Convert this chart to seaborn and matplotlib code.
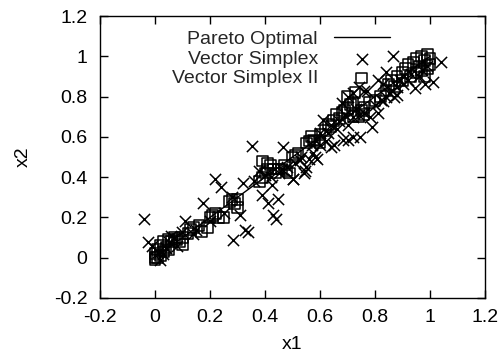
import matplotlib
matplotlib.use("Agg")
import matplotlib.pyplot as plt
import seaborn as sns
import pandas as pd

# ---- data ----
pareto_x = [0.0, 1.0]
pareto_y = [0.0, 1.0]

vs_x = [-0.04, -0.025, -0.01, 0.01, 0.02, 0.03, 0.05, 0.07, 0.11, 0.10, 0.175, 0.14, 0.20,
        0.22, 0.24, 0.25, 0.28, 0.32, 0.284, 0.31, 0.327, 0.34, 0.39, 0.41, 0.447, 0.43, 0.44,
        0.50, 0.425, 0.353, 0.465, 0.38, 0.40, 0.42, 0.45, 0.48, 0.51, 0.545, 0.58, 0.56, 0.527,
        0.55, 0.59, 0.575, 0.60, 0.62, 0.65, 0.685, 0.72, 0.745, 0.61, 0.68, 0.64, 0.66, 0.70,
        0.72, 0.74, 0.73, 0.76, 0.78, 0.79, 0.80, 0.81, 0.82, 0.72, 0.74, 0.70, 0.83, 0.84, 0.86,
        0.88, 0.87, 0.865, 0.90, 0.92, 0.945, 1.01, 1.04, 0.97, 0.99, 0.93, 0.96, 0.98, 0.76,
        0.81, 0.84, 0.77, 0.69, 0.67, 0.63, 0.60, 0.57, 0.53, 0.46, 0.36, 0.15, 0.08, 0.04, 0.06,
        0.83, 0.85, 0.89, 0.54, 0.50, 0.64, 0.70, 0.88]
vs_y = [0.19, 0.08, 0.06, 0.03, -0.01, 0.02, 0.08, 0.10, 0.18, 0.13, 0.27, 0.12, 0.18,
        0.39, 0.35, 0.22, 0.30, 0.37, 0.09, 0.21, 0.14, 0.13, 0.31, 0.27, 0.29, 0.21, 0.19,
        0.39, 0.36, 0.556, 0.55, 0.43, 0.41, 0.40, 0.42, 0.45, 0.47, 0.43, 0.50, 0.49, 0.487,
        0.45, 0.49, 0.52, 0.56, 0.58, 0.56, 0.585, 0.60, 0.60, 0.685, 0.77, 0.66, 0.64, 0.66,
        0.70, 0.71, 0.74, 0.72, 0.70, 0.65, 0.76, 0.72, 0.785, 0.82, 0.85, 0.80, 0.78, 0.80, 0.83,
        0.85, 0.80, 1.00, 0.86, 0.88, 0.845, 0.87, 0.97, 0.93, 0.95, 0.91, 0.90, 0.86, 0.83,
        0.88, 0.92, 0.83, 0.71, 0.68, 0.62, 0.62, 0.56, 0.50, 0.44, 0.38, 0.14, 0.06, 0.05, 0.11,
        0.86, 0.82, 0.88, 0.42, 0.39, 0.55, 0.585, 0.81]

vs2_x = [0.00, 0.00, 0.01, 0.00, 0.02, 0.01, 0.03, 0.02, 0.04, 0.05, 0.03, 0.05, 0.06, 0.07,
         0.08, 0.09, 0.10, 0.10, 0.12, 0.13, 0.14, 0.16, 0.17, 0.19, 0.20, 0.21, 0.22, 0.23,
         0.25, 0.27, 0.28, 0.29, 0.30, 0.30, 0.38, 0.39, 0.40, 0.41, 0.39, 0.41, 0.42, 0.43,
         0.44, 0.45, 0.46, 0.48, 0.49, 0.47, 0.50, 0.51, 0.52, 0.55, 0.56, 0.57, 0.575, 0.58,
         0.60, 0.60, 0.62, 0.64, 0.63, 0.65, 0.67, 0.66, 0.68, 0.69, 0.70, 0.71, 0.72, 0.727,
         0.70, 0.72, 0.74, 0.76, 0.75, 0.76, 0.78, 0.80, 0.82, 0.84, 0.85, 0.86, 0.87, 0.88,
         0.90, 0.90, 0.91, 0.92, 0.93, 0.94, 0.95, 0.96, 0.97, 0.98, 0.99, 1.00, 1.00, 0.97,
         0.95, 0.99, 0.98]
vs2_y = [0.00, -0.01, 0.00, 0.02, 0.01, 0.04, 0.03, 0.06, 0.05, 0.04, 0.08, 0.09, 0.08, 0.10,
         0.09, 0.08, 0.065, 0.10, 0.12, 0.14, 0.15, 0.16, 0.13, 0.15, 0.20, 0.21, 0.22, 0.20,
         0.20, 0.28, 0.29, 0.27, 0.29, 0.25, 0.38, 0.40, 0.42, 0.44, 0.48, 0.47, 0.46, 0.44,
         0.42, 0.44, 0.44, 0.43, 0.42, 0.46, 0.50, 0.51, 0.52, 0.57, 0.58, 0.60, 0.585, 0.58,
         0.61, 0.57, 0.63, 0.65, 0.66, 0.68, 0.69, 0.71, 0.72, 0.73, 0.74, 0.76, 0.77, 0.82,
         0.80, 0.70, 0.70, 0.71, 0.73, 0.745, 0.77, 0.78, 0.80, 0.83, 0.86, 0.88, 0.85, 0.90,
         0.92, 0.88, 0.94, 0.96, 0.90, 0.97, 0.99, 0.95, 1.00, 0.98, 1.01, 0.99, 0.96, 0.93,
         0.92, 0.94, 0.90]

ticks = [-0.2, 0, 0.2, 0.4, 0.6, 0.8, 1, 1.2]
tick_labels = ["-0.2", "0", "0.2", "0.4", "0.6", "0.8", "1", "1.2"]

sns.set_theme(style="ticks")
plt.rcParams["font.family"] = ["Liberation Sans", "DejaVu Sans"]
plt.rcParams["xtick.direction"] = "in"
plt.rcParams["ytick.direction"] = "in"

fig = plt.figure(figsize=(4.98, 3.58), dpi=100)
ax = fig.add_axes([0.2008, 0.1676, 0.7731, 0.7877])

pareto_df = pd.DataFrame({"x1": pareto_x, "x2": pareto_y})
vs_df = pd.DataFrame({"x1": vs_x, "x2": vs_y})
vs2_df = pd.DataFrame({"x1": vs2_x, "x2": vs2_y})

sns.lineplot(data=pareto_df, x="x1", y="x2", ax=ax, color="black", linewidth=1.0,
             label="Pareto Optimal")
sns.scatterplot(data=vs_df, x="x1", y="x2", ax=ax, marker="x", color="black", s=65,
                linewidth=1.1, label="Vector Simplex")
sns.scatterplot(data=vs2_df, x="x1", y="x2", ax=ax, marker="s", facecolor="none",
                edgecolor="black", s=60, linewidth=1.1, label="Vector Simplex II")

ax.set_xlim(-0.2, 1.2)
ax.set_ylim(-0.2, 1.2)
ax.set_xticks(ticks)
ax.set_xticklabels(tick_labels)
ax.set_yticks(ticks)
ax.set_yticklabels(tick_labels)
ax.tick_params(axis="both", which="major", direction="in", length=6, width=1.0,
               labelsize=14, top=True, right=True, color="black", labelcolor="black")
ax.tick_params(axis="y", pad=9)
ax.tick_params(axis="x", pad=8)
for sp in ax.spines.values():
    sp.set_visible(True)
    sp.set_color("black")
    sp.set_linewidth(1.0)

ax.set_xlabel("x1", fontsize=14, color="black", labelpad=7)
ax.set_ylabel("x2", fontsize=14, color="black", labelpad=16)

leg = ax.legend(loc="upper right", bbox_to_anchor=(0.753, 0.948), frameon=False,
                markerfirst=False, fontsize=14, handlelength=2.9, handletextpad=0.8,
                labelspacing=0.09, borderpad=0, borderaxespad=0)
for col in leg._legend_handle_box.get_children():
    col.align = "right"

fig.savefig("out.png", dpi=100)
